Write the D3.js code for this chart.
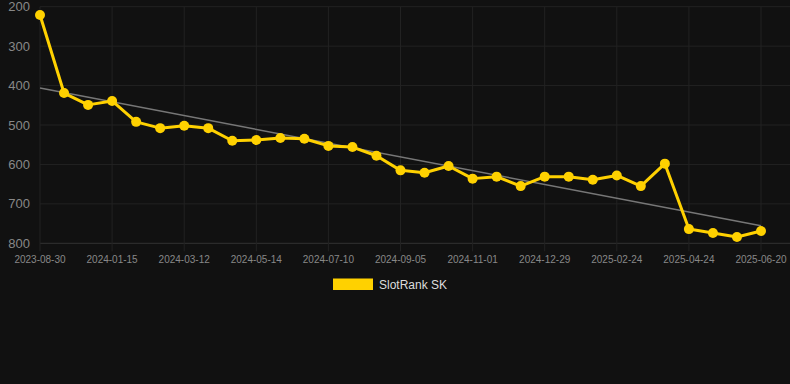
<!DOCTYPE html>
<html>
    <head>
        <meta charset="utf-8">
        <script src="https://d3js.org/d3.v7.min.js"></script>
        <style>
            body { margin: 0; background: #111111; }
            svg { display: block; font-family: "Liberation Sans", Arial, sans-serif; }
        </style>

        <script>
            // DATA //////////////////////////////////////////////////////////////////

            const seriesName = "SlotRank SK";
            const rankValues = [221, 419, 449, 439, 492, 508, 502, 508, 540, 538, 533,
                                535, 553, 556, 578, 615, 621, 604, 636, 631, 655, 631,
                                631, 639, 628, 655, 598, 764, 774, 784, 769];
            const tickLabels = ["2023-08-30", "2024-01-15", "2024-03-12", "2024-05-14",
                                "2024-07-10", "2024-09-05", "2024-11-01", "2024-12-29",
                                "2025-02-24", "2025-04-24", "2025-06-20"];
            const tickEvery = 3;
            const yTicks = [200, 300, 400, 500, 600, 700, 800];

            function makeSVG() {

                const width = 790;
                const height = 384;
                const margin = { left: 40, top: 6.7, right: 29, bottom: 140.7 }

                var svg = d3.select("body").append("svg")
                            .attr("width", width)
                            .attr("height", height);

                svg.append("rect").attr("width", width).attr("height", height).attr("fill", "#111111");

                // X SCALE ////////////////////////////////////////////

                var idx = d3.range(rankValues.length);
                var xSc = d3.scalePoint().domain(idx).range([margin.left, width - margin.right]);

                // Y SCALE (rank: smaller is better, on top) /////////

                const ySc = d3.scaleLinear().domain([200, 800])
                              .range([margin.top, height - margin.bottom]);

                // GRID ///////////////////////////////////////////////

                svg.append("g").selectAll("line").data(yTicks).join("line")
                   .attr("x1", margin.left).attr("x2", width)
                   .attr("y1", d => ySc(d)).attr("y2", d => ySc(d))
                   .attr("stroke", d => d == 800 ? "#333333" : "#222222");

                var tickIdx = idx.filter(i => i % tickEvery == 0);

                svg.append("g").selectAll("line").data(tickIdx).join("line")
                   .attr("x1", d => xSc(d)).attr("x2", d => xSc(d))
                   .attr("y1", margin.top).attr("y2", height - margin.bottom + 8)
                   .attr("stroke", "#222222");

                // Y AXIS /////////////////////////////////////////////

                svg.append("g").selectAll("text").data(yTicks).join("text")
                   .attr("x", 30).attr("y", d => ySc(d))
                   .attr("dy", "0.35em")
                   .attr("text-anchor", "end")
                   .attr("fill", "#888888")
                   .attr("font-size", 13)
                   .text(d => d);

                // X AXIS /////////////////////////////////////////////

                svg.append("g").selectAll("text").data(tickIdx).join("text")
                   .attr("x", d => xSc(d)).attr("y", height - margin.bottom + 20)
                   .attr("text-anchor", "middle")
                   .attr("fill", "#888888")
                   .attr("font-size", 10)
                   .text(d => tickLabels[d / tickEvery]);

                // TREND LINE (least squares) /////////////////////////

                var mx = d3.mean(idx), my = d3.mean(rankValues);
                var slope = d3.sum(idx, i => (i - mx) * (rankValues[i] - my)) /
                            d3.sum(idx, i => (i - mx) * (i - mx));
                var icpt = my - slope * mx;
                var ends = [0, idx.length - 1];

                svg.append("path")
                   .attr("d", d3.line()(ends.map(i => [xSc(i), ySc(icpt + slope * i)])))
                   .attr("fill", "none")
                   .attr("stroke", "#777777")
                   .attr("stroke-width", 1.5);

                // DRAW LINE //////////////////////////////////////////

                var ds = idx.map(i => [xSc(i), ySc(rankValues[i])]);

                svg.append("path")
                   .attr("d", d3.line()(ds))
                   .attr("fill", "none")
                   .attr("stroke", "#FFD100")
                   .attr("stroke-width", 3)
                   .attr("stroke-linejoin", "round");

                svg.append("g").selectAll("circle").data(ds).join("circle")
                   .attr("cx", d => d[0]).attr("cy", d => d[1])
                   .attr("r", 5)
                   .attr("fill", "#FFD100");

                // LEGEND /////////////////////////////////////////////

                svg.append("rect")
                   .attr("x", 333).attr("y", 278.5)
                   .attr("width", 40).attr("height", 11.5)
                   .attr("fill", "#FFD100");

                svg.append("text")
                   .attr("x", 379).attr("y", 284.5)
                   .attr("dy", "0.35em")
                   .attr("fill", "#DDDDDD")
                   .attr("font-size", 12)
                   .text(seriesName);
            }
        </script>
    </head>
    <body onload="makeSVG()">

    </body>
</html>
